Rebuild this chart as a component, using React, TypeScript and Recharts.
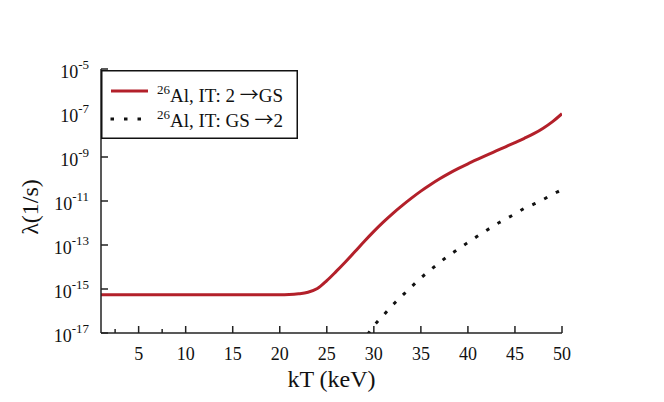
import React from "react";
import { Line, LineChart, XAxis, YAxis } from "recharts";

// kT in keV, rates in 1/s
const redKT = [1, 5, 10, 15, 20, 21, 22, 23, 24, 25, 26, 27, 28, 29, 30, 31, 32, 33, 34, 35, 36, 37, 38, 39, 40, 41, 42, 43, 44, 45, 46, 47, 48, 49, 50];
const redRate = [
  5.5e-16, 5.5e-16, 5.5e-16, 5.5e-16, 5.5e-16, 5.6e-16, 6.03e-16, 7.08e-16, 1.047e-15, 2.399e-15,
  6.31e-15, 1.738e-14, 5.01e-14, 1.479e-13, 4.169e-13, 1.096e-12, 2.692e-12, 6.166e-12, 1.349e-11, 2.818e-11,
  5.495e-11, 1.023e-10, 1.799e-10, 3.02e-10, 4.898e-10, 7.762e-10, 1.216e-9, 1.884e-9, 2.917e-9, 4.519e-9,
  7.079e-9, 1.148e-8, 2.042e-8, 4.074e-8, 9.33e-8,
];

const dotKT = [29.45, 30, 31, 32, 33, 34, 35, 36, 37, 38, 39, 40, 41, 42, 43, 44, 45, 46, 47, 48, 49, 50];
const dotRate = [
  1e-17, 2.1e-17, 6.3e-17, 1.86e-16, 4.9e-16, 1.26e-15, 3.2e-15, 7.2e-15, 1.6e-14, 3.4e-14, 6.6e-14,
  1.3e-13, 2.5e-13, 4.7e-13, 8.7e-13, 1.5e-12, 2.6e-12, 4.6e-12, 7.2e-12, 1.17e-11, 2.0e-11, 3.3e-11,
];

const xTicks = [2.5, 5, 7.5, 10, 12.5, 15, 17.5, 20, 22.5, 25, 27.5, 30, 32.5, 35, 37.5, 40, 42.5, 45, 47.5, 50];
const yTicks = [1e-17, 1e-16, 1e-15, 1e-14, 1e-13, 1e-12, 1e-11, 1e-10, 1e-9, 1e-8, 1e-7, 1e-6, 1e-5];

const isotope = "26";
const seriesNames = ["Al, IT: 2 \u2192GS", "Al, IT: GS \u21922"];

const redData = redKT.map((kT, i) => ({ kT, rate: redRate[i] }));
const dotData = dotKT.map((kT, i) => ({ kT, rate: dotRate[i] }));

const FONT = '"Liberation Serif", "Times New Roman", Times, serif';
const RED = "#b3202a";
const AXIS = "#222";

const XTick = (props: any) => {
  const { x, y, payload } = props;
  const major = payload.value % 5 === 0;
  return (
    <g>
      <line x1={x} x2={x} y1={y} y2={y - (major ? 7 : 4)} stroke={AXIS} strokeWidth={1.5} />
      {major && (
        <text x={x} y={y + 27} textAnchor="middle" fontSize={18} fontFamily={FONT} fill="#111">
          {payload.value}
        </text>
      )}
    </g>
  );
};

const YTick = (props: any) => {
  const { x, y, payload } = props;
  const exp = Math.round(Math.log10(payload.value));
  const major = Math.abs(exp) % 2 === 1;
  return (
    <g>
      <line x1={x} x2={x + (major ? 7 : 4)} y1={y} y2={y} stroke={AXIS} strokeWidth={1.5} />
      {major && (
        <text x={x - 12} y={y + 9} textAnchor="end" fontSize={18} fontFamily={FONT} fill="#111">
          10
          <tspan dy={-9} fontSize={13}>
            {exp}
          </tspan>
        </text>
      )}
    </g>
  );
};

const YLabel = ({ viewBox }: any) => {
  const cx = viewBox.x + 38;
  const cy = viewBox.y + viewBox.height / 2 + 6;
  return (
    <text x={cx} y={cy} transform={`rotate(-90 ${cx} ${cy})`} textAnchor="middle" fontSize={24} fontFamily={FONT} fill="#111">
      λ(1/s)
    </text>
  );
};

const XLabel = ({ viewBox }: any) => (
  <text x={viewBox.x + viewBox.width / 2} y={viewBox.y + 54} textAnchor="middle" fontSize={24} fontFamily={FONT} fill="#111">
    kT (keV)
  </text>
);

// legend label: superscript mass number, thin full-width arrow
const LegendLabel = ({ x, y, name }: { x: number; y: number; name: string }) => {
  const [before, after] = name.split("\u2192");
  return (
    <text x={x} y={y} fontSize={19} fontFamily={FONT} fill="#111">
      <tspan fontSize={13} dy={-8}>{isotope}</tspan>
      <tspan dy={8}>{before}</tspan>
      <tspan fontFamily='"Noto Sans CJK SC", "DejaVu Sans", sans-serif' fontSize={19}>{"\u2192"}</tspan>
      <tspan>{after}</tspan>
    </text>
  );
};

const LegendBox = () => (
  <svg width={197} height={69} style={{ display: "block" }}>
    <rect x={0.75} y={0.75} width={195.5} height={67.5} fill="#fff" stroke="#111" strokeWidth={1.5} />
    <line x1={10} x2={47} y1={21} y2={21} stroke={RED} strokeWidth={3} />
    <LegendLabel x={56} y={32} name={seriesNames[0]} />
    <line x1={11} x2={47} y1={49} y2={49} stroke="#111" strokeWidth={3} strokeDasharray="0.5 13" strokeLinecap="square" />
    <LegendLabel x={56} y={57} name={seriesNames[1]} />
  </svg>
);

export default function App() {
  return (
    <div style={{ position: "absolute", left: 0, top: 0, width: 664, height: 402, background: "#fff" }}>
      <LineChart width={664} height={402} margin={{ top: 69, right: 102, bottom: 0, left: 0 }}>
        <XAxis
          type="number"
          dataKey="kT"
          domain={[1, 50]}
          ticks={xTicks}
          allowDataOverflow
          height={69}
          tickSize={0}
          tickMargin={0}
          tickLine={false}
          tick={<XTick />}
          axisLine={{ stroke: AXIS, strokeWidth: 1.5 }}
          label={<XLabel />}
        />
        <YAxis
          type="number"
          scale="log"
          domain={[1e-17, 1e-5]}
          ticks={yTicks}
          allowDataOverflow
          width={101}
          tickSize={0}
          tickMargin={0}
          tickLine={false}
          tick={<YTick />}
          axisLine={{ stroke: AXIS, strokeWidth: 1.5 }}
          label={<YLabel />}
        />
        <Line
          data={redData}
          dataKey="rate"
          type="monotone"
          stroke={RED}
          strokeWidth={3}
          dot={false}
          isAnimationActive={false}
        />
        <Line
          data={dotData}
          dataKey="rate"
          type="monotone"
          stroke="#111"
          strokeWidth={3}
          strokeDasharray="0.5 12.7"
          strokeLinecap="square"
          dot={false}
          isAnimationActive={false}
        />
      </LineChart>
      <div style={{ position: "absolute", left: 101, top: 70 }}>
        <LegendBox />
      </div>
    </div>
  );
}
